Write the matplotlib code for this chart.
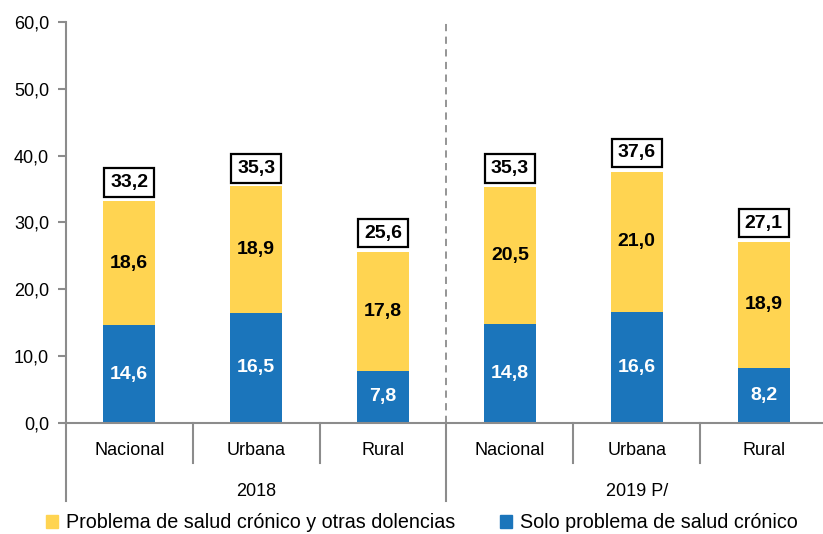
import matplotlib.pyplot as plt
from matplotlib.patches import Patch
from matplotlib.transforms import blended_transform_factory
import matplotlib.font_manager as fm

names = {f.name for f in fm.fontManager.ttflist}
font = 'Liberation Sans Narrow' if 'Liberation Sans Narrow' in names else 'Liberation Sans'
plt.rcParams['font.family'] = [font, 'DejaVu Sans']

categories = ['Nacional', 'Urbana', 'Rural', 'Nacional', 'Urbana', 'Rural']
groups = ['2018', '2019 P/']
solo = [14.6, 16.5, 7.8, 14.8, 16.6, 8.2]
otras = [18.6, 18.9, 17.8, 20.5, 21.0, 18.9]
totals = [33.2, 35.3, 25.6, 35.3, 37.6, 27.1]

blue = '#1B75BB'
yellow = '#FFD451'
grey = '#8C8C8C'

fig = plt.figure(figsize=(8.23, 5.34), dpi=100)
ax = fig.add_axes([0.080, 0.208, 0.925, 0.751])

x = list(range(len(categories)))
ax.bar(x, solo, width=0.41, color=blue)
ax.bar(x, otras, width=0.41, bottom=solo, color=yellow)

for i in x:
    ax.text(i, solo[i] / 2, f'{solo[i]:.1f}'.replace('.', ','), ha='center', va='center',
            color='white', fontsize=14, fontweight='bold')
    ax.text(i, solo[i] + otras[i] / 2, f'{otras[i]:.1f}'.replace('.', ','), ha='center', va='center',
            color='black', fontsize=14, fontweight='bold')
    ax.text(i, totals[i] + 2.8, f'{totals[i]:.1f}'.replace('.', ','), ha='center', va='center',
            color='black', fontsize=14, fontweight='bold',
            bbox=dict(boxstyle='square,pad=0.3', fc='white', ec='black', lw=1.6))

ax.set_xlim(-0.5, 5.5)
ax.set_ylim(0, 60)
ax.set_yticks(range(0, 61, 10))
ax.set_yticklabels([f'{v:.1f}'.replace('.', ',') for v in range(0, 61, 10)], fontsize=13)
ax.tick_params(axis='y', direction='out', length=6, color=grey, width=1.5, pad=6)
ax.set_xticks([])
for s in ['top', 'right']:
    ax.spines[s].set_visible(False)
ax.spines['left'].set_color(grey)
ax.spines['left'].set_linewidth(1.5)
ax.spines['bottom'].set_color(grey)
ax.spines['bottom'].set_linewidth(1.5)

# dashed separator between years
ax.axvline(2.5, color=grey, ls=(0, (4, 3)), lw=1.3)

# category and group labels below the axis
trans = blended_transform_factory(ax.transData, ax.transAxes)
for i, c in enumerate(categories):
    ax.text(i, -0.068, c, transform=trans, ha='center', va='center', fontsize=13)
for g, name in enumerate(groups):
    ax.text(g * 3 + 1, -0.17, name, transform=trans, ha='center', va='center', fontsize=13)
for b in [-0.5, 0.5, 1.5, 2.5, 3.5, 4.5, 5.5]:
    low = -0.195 if b in (-0.5, 2.5, 5.5) else -0.1
    ax.plot([b, b], [0, low], transform=trans, color=grey, lw=1.5, clip_on=False)

handles = [Patch(color=yellow), Patch(color=blue)]
labels = ['Problema de salud crónico y otras dolencias', 'Solo problema de salud crónico']
fig.legend(handles, labels, loc='center left', bbox_to_anchor=(0.056, 0.021), ncol=2,
           frameon=False, fontsize=14.2, handlelength=0.6, handleheight=0.6,
           handletextpad=0.4, columnspacing=2.3, borderpad=0, borderaxespad=0)

fig.savefig('out.png', dpi=100)
